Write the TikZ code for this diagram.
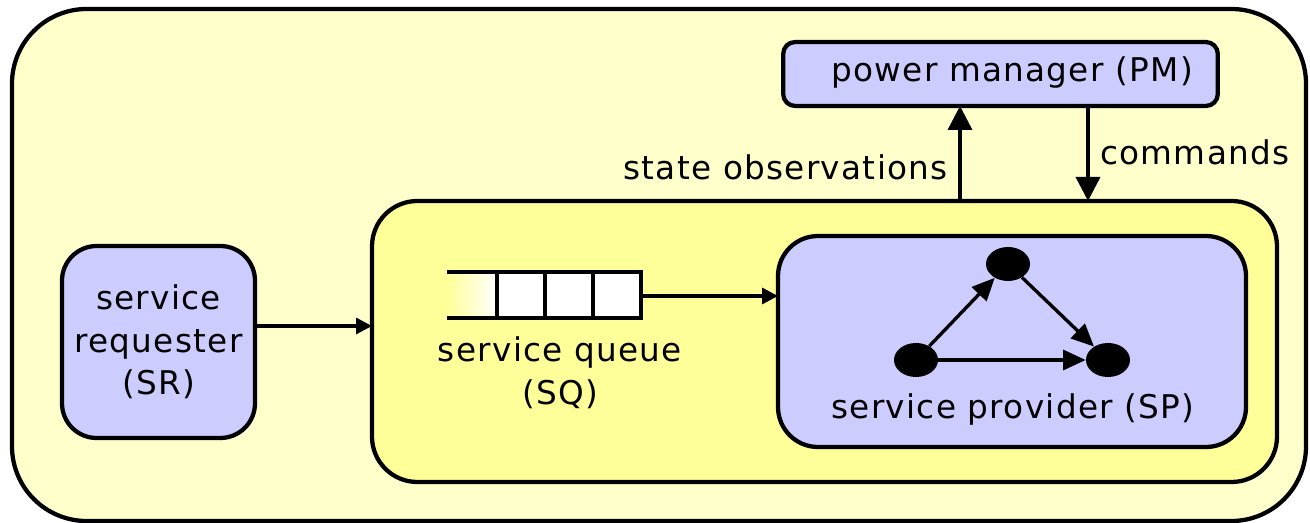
\documentclass[tikz,border=0pt]{standalone}
\usepackage{fontspec}
\setmainfont{DejaVu Sans}[LetterSpace=4]
\usetikzlibrary{arrows.meta,shapes.geometric}
\definecolor{paleyellow}{HTML}{FFFFCC}
\definecolor{midyellow}{HTML}{FFFF99}
\definecolor{lilac}{HTML}{CCCCFF}
\tikzset{
  frame/.style={draw=black, line width=3.2pt},
  box/.style={frame, fill=lilac, inner sep=0pt},
  lbl/.style={font=\fontsize{24.5pt}{32pt}\selectfont, inner sep=0pt, align=center},
  flow/.style={line width=2.5pt, -{Triangle[length=12pt,width=12pt]}},
  bigflow/.style={line width=2.6pt, -{Triangle[length=18pt,width=18pt]}},
  gflow/.style={line width=2.5pt, -{Triangle[length=17pt,width=15pt]}},
  vertex/.style={ellipse, fill=black, minimum width=33pt, minimum height=25.5pt, inner sep=0pt},
}
\begin{document}
\begin{tikzpicture}[x=0.75pt,y=-0.75pt]
\useasboundingbox (0,0) rectangle (1310,523);
% system boundary
\draw[frame, fill=paleyellow, rounded corners=56pt] (12,9) rectangle (1306,521);
% managed subsystem
\draw[frame, fill=midyellow, rounded corners=34pt] (372,201) rectangle (1277,482);
\coordinate (systop1) at (960,201);
\coordinate (systop2) at (1088,201);
\coordinate (sysleft) at (372,326);
% service provider
\draw[box, rounded corners=30pt] (778,236) rectangle (1246,447);
\coordinate (spleft) at (778,296);
% service requester
\draw[box, rounded corners=26pt] (62,246) rectangle (255,438);
\node[lbl] (sr) at (158.5,342) {service\\requester\\(SR)};
\coordinate (srright) at (255,326);
% power manager
\node[box, rounded corners=9pt, minimum width=326pt, minimum height=48pt] (pm) at (1000.5,74) {};
\node[lbl] (pmtxt) at (1012,73) {power manager (PM)};
\coordinate (pmb1) at (960,106);
\coordinate (pmb2) at (1088,106);
% queue
\shade[left color=midyellow, right color=white] (447,272) rectangle (497,318);
\fill[white] (497,272) rectangle (641,318);
\draw[line width=3pt] (447,272) -- (641,272) -- (641,318) -- (447,318);
\foreach \x in {497,545,593} \draw[line width=3pt] (\x,272) -- (\x,318);
\coordinate (qout) at (641,296);
\node[lbl] (sq) at (560,373) {service queue\\(SQ)};
% provider states
\node[vertex] (v1) at (1008,264) {};
\node[vertex] (v2) at (916,360) {};
\node[vertex] (v3) at (1108,360) {};
\node[lbl] (sp) at (1013,409) {service provider (SP)};
% connectors
\draw[flow] (srright) -- (sysleft);
\draw[flow] (qout) -- (spleft);
\draw[bigflow] (systop1) -- (pmb1);
\draw[bigflow] (pmb2) -- (systop2);
\draw[gflow] (v2) -- (v1);
\draw[gflow] (v1) -- (v3);
\draw[gflow] (v2) -- (v3);
\node[lbl, anchor=east] (obs) at (948,167) {state observations};
\node[lbl, anchor=west] (cmd) at (1100,152) {commands};
\end{tikzpicture}
\end{document}
